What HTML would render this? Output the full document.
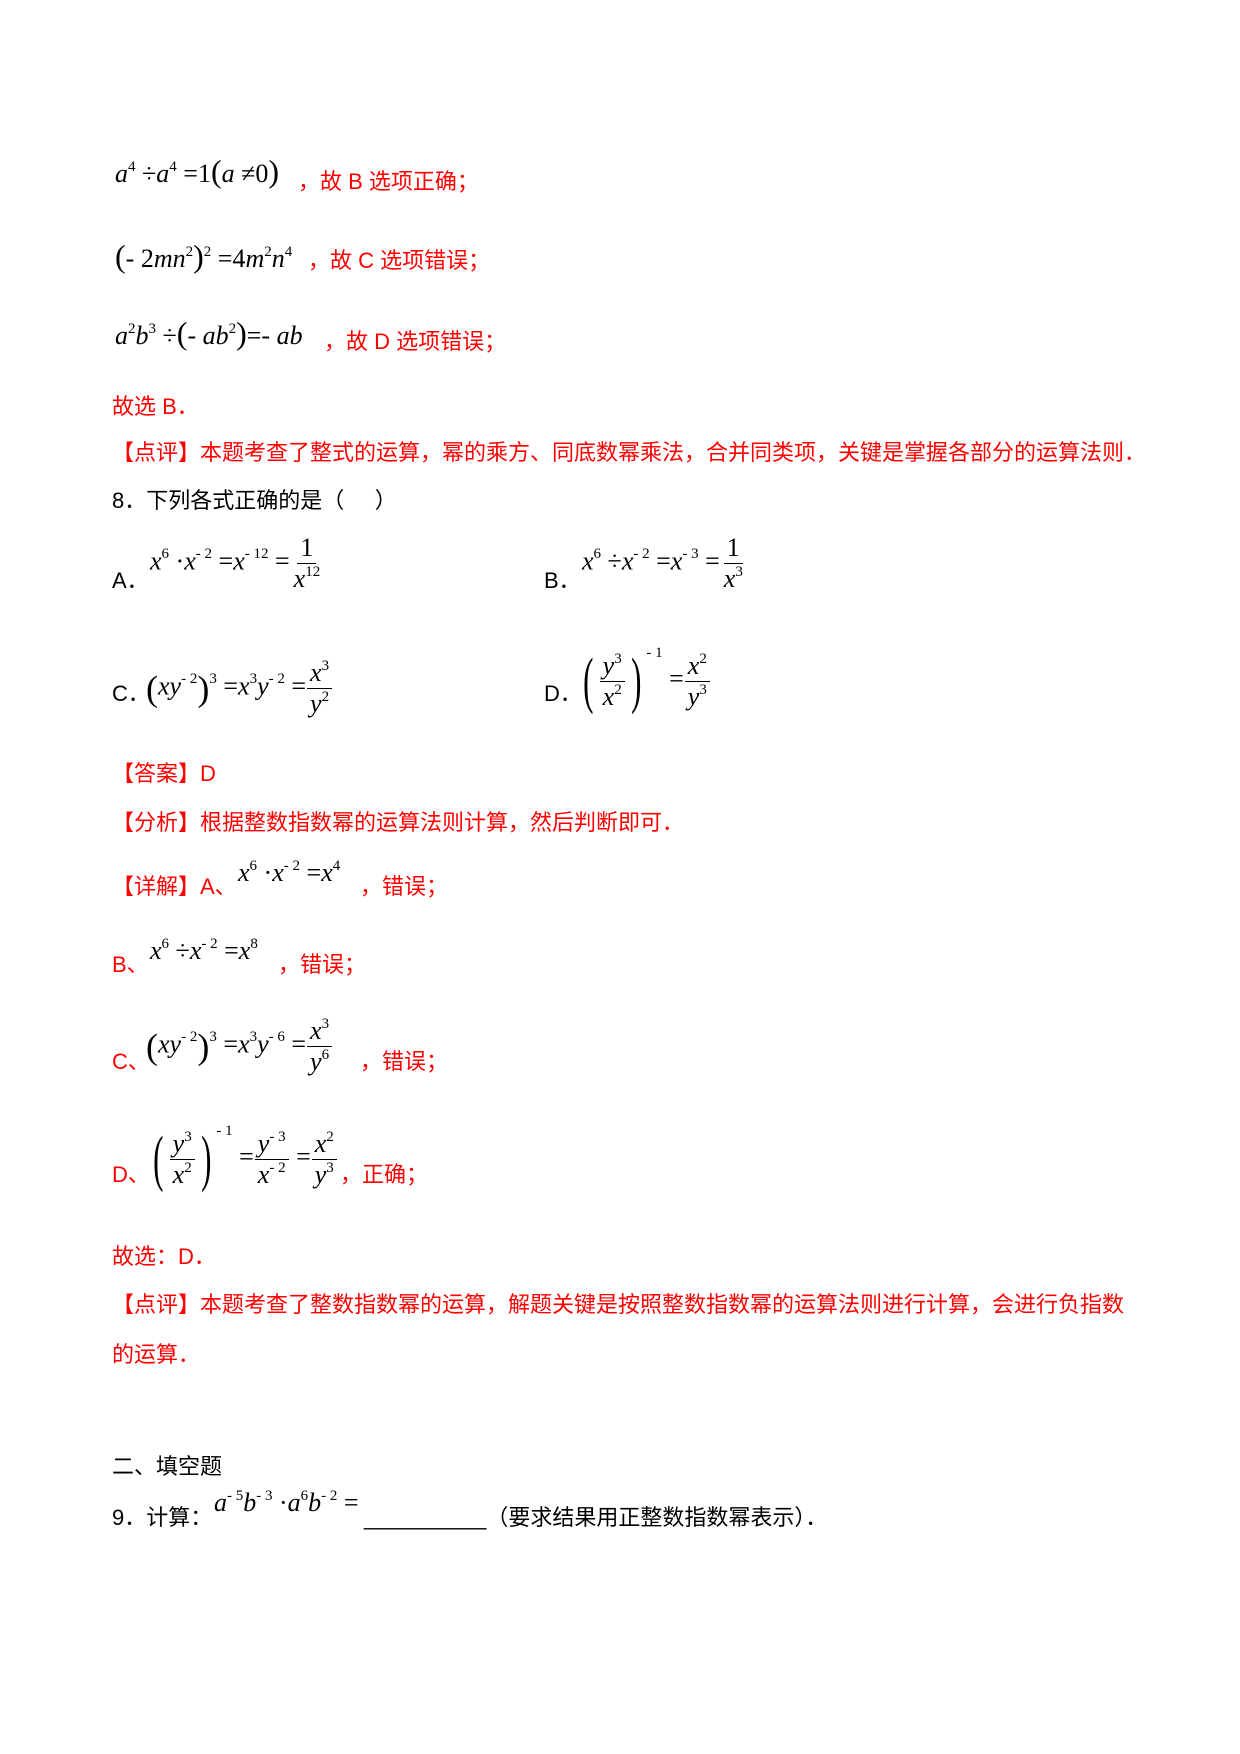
<!DOCTYPE html>
<html><head><meta charset="utf-8"><style>
body{margin:0;background:#fff;}
.p{position:relative;width:1240px;height:1754px;overflow:hidden;font-family:"Liberation Sans","Noto Sans CJK SC",sans-serif;font-size:22px;color:#000;}
.t{position:absolute;white-space:nowrap;line-height:1;}
.r{color:#f00;}
.m{position:absolute;white-space:nowrap;font-family:"Liberation Serif",serif;font-size:26px;line-height:1;color:#000;}
.m i{font-style:italic;}
.m sup{font-size:15px;vertical-align:0;position:relative;top:-11px;font-style:normal;}
.f{display:inline-flex;flex-direction:column;align-items:center;vertical-align:middle;margin:0 1px;}
.f>span{display:block;padding:0 3px;}
.f>span:first-child{border-bottom:1px solid #000;padding-bottom:2px;}
.f>span:last-child{padding-top:2px;}
.big{font-size:36px;vertical-align:middle;}
.bb{font-size:62px;font-weight:100;vertical-align:middle;transform:scaleX(0.5);display:inline-block;}
</style></head><body><div class="p">

<div class="m" style="left:115px;top:155px"><i>a</i><sup>4</sup> ÷<i>a</i><sup>4</sup> =1<span style="font-size:32px">(</span><i>a</i> ≠0<span style="font-size:32px">)</span></div>
<div class="t r" style="left:298px;top:171px">，故 B 选项正确；</div>

<div class="m" style="left:115px;top:240px"><span style="font-size:32px">(</span>- 2<i>mn</i><sup>2</sup><span style="font-size:32px">)</span><sup>2</sup> =4<i>m</i><sup>2</sup><i>n</i><sup>4</sup></div>
<div class="t r" style="left:308px;top:250px">，故 C 选项错误；</div>

<div class="m" style="left:115px;top:317px"><i>a</i><sup>2</sup><i>b</i><sup>3</sup> ÷<span style="font-size:32px">(</span>- <i>ab</i><sup>2</sup><span style="font-size:32px">)</span>=- <i>ab</i></div>
<div class="t r" style="left:324px;top:331px">，故 D 选项错误；</div>

<div class="t r" style="left:112px;top:396px">故选 B．</div>
<div class="t r" style="left:112px;top:442px">【点评】本题考查了整式的运算，幂的乘方、同底数幂乘法，合并同类项，关键是掌握各部分的运算法则．</div>
<div class="t" style="left:112px;top:490px">8．下列各式正确的是（&nbsp;&nbsp;&nbsp;&nbsp;&nbsp;）</div>

<div class="t" style="left:112px;top:570px">A．</div>
<div class="m" style="left:150px;top:535px"><i>x</i><sup>6</sup> ·<i>x</i><sup>- 2</sup> =<i>x</i><sup>- 12</sup> =<span class="f"><span>1</span><span><i>x</i><sup>12</sup></span></span></div>
<div class="t" style="left:544px;top:570px">B．</div>
<div class="m" style="left:582px;top:535px"><i>x</i><sup>6</sup> ÷<i>x</i><sup>- 2</sup> =<i>x</i><sup>- 3</sup> =<span class="f"><span>1</span><span><i>x</i><sup>3</sup></span></span></div>

<div class="t" style="left:112px;top:683px">C．</div>
<div class="m" style="left:146px;top:660px"><span class="big">(</span><i>xy</i><sup>- 2</sup><span class="big">)</span><sup>3</sup> =<i>x</i><sup>3</sup><i>y</i><sup>- 2</sup> =<span class="f"><span><i>x</i><sup>3</sup></span><span><i>y</i><sup>2</sup></span></span></div>
<div class="t" style="left:544px;top:683px">D．</div>
<div class="m" style="left:578px;top:650px"><span class="bb">(</span><span class="f"><span><i>y</i><sup>3</sup></span><span><i>x</i><sup>2</sup></span></span><span class="bb">)</span><sup style="top:-30px">- 1</sup> =<span class="f"><span><i>x</i><sup>2</sup></span><span><i>y</i><sup>3</sup></span></span></div>

<div class="t r" style="left:112px;top:763px">【答案】D</div>
<div class="t r" style="left:112px;top:812px">【分析】根据整数指数幂的运算法则计算，然后判断即可．</div>
<div class="t r" style="left:112px;top:876px">【详解】A、</div>
<div class="m" style="left:238px;top:860px"><i>x</i><sup>6</sup> ·<i>x</i><sup>- 2</sup> =<i>x</i><sup>4</sup></div>
<div class="t r" style="left:360px;top:876px">，错误；</div>

<div class="t r" style="left:112px;top:954px">B、</div>
<div class="m" style="left:150px;top:938px"><i>x</i><sup>6</sup> ÷<i>x</i><sup>- 2</sup> =<i>x</i><sup>8</sup></div>
<div class="t r" style="left:278px;top:954px">，错误；</div>

<div class="t r" style="left:112px;top:1051px">C、</div>
<div class="m" style="left:146px;top:1018px"><span class="big">(</span><i>xy</i><sup>- 2</sup><span class="big">)</span><sup>3</sup> =<i>x</i><sup>3</sup><i>y</i><sup>- 6</sup> =<span class="f"><span><i>x</i><sup>3</sup></span><span><i>y</i><sup>6</sup></span></span></div>
<div class="t r" style="left:360px;top:1051px">，错误；</div>

<div class="t r" style="left:112px;top:1164px">D、</div>
<div class="m" style="left:148px;top:1128px"><span class="bb">(</span><span class="f"><span><i>y</i><sup>3</sup></span><span><i>x</i><sup>2</sup></span></span><span class="bb">)</span><sup style="top:-30px">- 1</sup> =<span class="f"><span><i>y</i><sup>- 3</sup></span><span><i>x</i><sup>- 2</sup></span></span> =<span class="f"><span><i>x</i><sup>2</sup></span><span><i>y</i><sup>3</sup></span></span></div>
<div class="t r" style="left:340px;top:1164px">，正确；</div>

<div class="t r" style="left:112px;top:1246px">故选：D．</div>
<div class="t r" style="left:112px;top:1294px">【点评】本题考查了整数指数幂的运算，解题关键是按照整数指数幂的运算法则进行计算，会进行负指数</div>
<div class="t r" style="left:112px;top:1344px">的运算．</div>

<div class="t" style="left:112px;top:1456px">二、填空题</div>
<div class="t" style="left:112px;top:1507px">9．计算：</div>
<div class="m" style="left:214px;top:1490px"><i>a</i><sup>- 5</sup><i>b</i><sup>- 3</sup> ·<i>a</i><sup>6</sup><i>b</i><sup>- 2</sup> =</div>
<div class="t" style="left:364px;top:1507px">__________（要求结果用正整数指数幂表示）．</div>

</div></body></html>
